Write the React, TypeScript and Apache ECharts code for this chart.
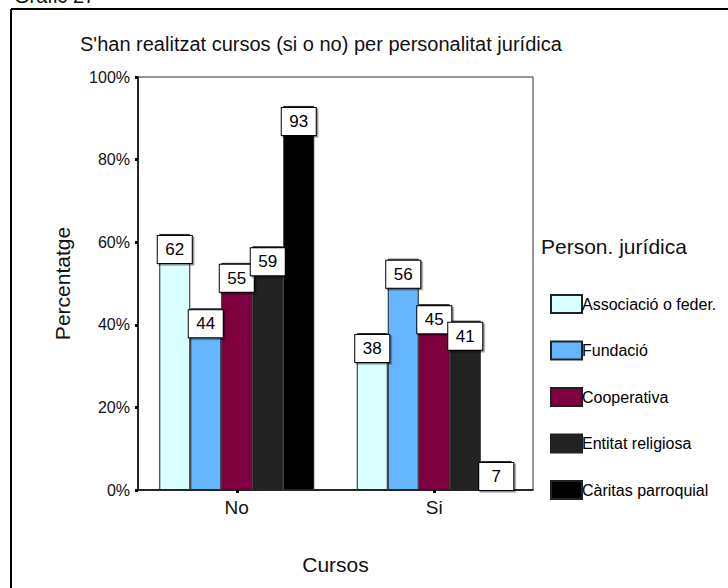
import React, { useEffect, useRef } from "react";
import * as echarts from "echarts";

const categories = ["No", "Si"];
const seriesNames = [
  "Associació o feder.",
  "Fundació",
  "Cooperativa",
  "Entitat religiosa",
  "Càritas parroquial",
];
const seriesValues = [
  [62, 38],
  [44, 56],
  [55, 45],
  [59, 41],
  [93, 7],
];
const seriesColors = ["#d9ffff", "#66b5ff", "#7f003f", "#222222", "#000000"];
const yTicks = [0, 20, 40, 60, 80, 100];

const FONT = "'Liberation Sans', Arial, sans-serif";

export default function App() {
  const ref = useRef<HTMLDivElement>(null);

  useEffect(() => {
    if (!ref.current) return;
    const chart = echarts.init(ref.current, null, { renderer: "svg" });

    const series = seriesNames.map((name, i) => ({
      name,
      type: "bar" as const,
      data: seriesValues[i],
      barWidth: 31,
      barGap: "0%",
      itemStyle: {
        color: seriesColors[i],
        borderColor: "#222",
        borderWidth: 1,
      },
      label: {
        show: true,
        position: "insideTop" as const,
        distance: 2,
        formatter: "{c}",
        fontFamily: FONT,
        fontSize: 17,
        color: "#000",
        backgroundColor: "#fff",
        borderColor: "#000",
        borderWidth: 1,
        width: 34,
        height: 27,
        lineHeight: 27,
        align: "center" as const,
        shadowColor: "rgba(0,0,0,0.45)",
        shadowOffsetX: 1.5,
        shadowOffsetY: 1.5,
        shadowBlur: 0,
      },
    }));

    chart.setOption({
      animation: false,
      backgroundColor: "#fff",
      textStyle: { fontFamily: FONT },
      grid: {
        left: 138,
        right: 195,
        top: 77,
        bottom: 98,
        show: true,
        borderColor: "#333",
        borderWidth: 1,
      },
      legend: {
        orient: "vertical",
        left: 545,
        top: 289,
        itemWidth: 31,
        itemHeight: 18,
        itemGap: 26.5,
        icon: "rect",
        data: seriesNames,
        textStyle: {
          fontFamily: FONT,
          fontSize: 16,
          color: "#000",
          padding: [0, 0, 0, -5],
        },
      },
      xAxis: {
        type: "category",
        data: categories,
        name: "Cursos",
        nameLocation: "middle",
        nameGap: 64,
        nameTextStyle: { fontFamily: FONT, fontSize: 21, color: "#111" },
        axisLine: { lineStyle: { color: "#000", width: 1.5 } },
        axisTick: {
          show: true,
          alignWithLabel: true,
          length: 3,
          lineStyle: { color: "#000", width: 3 },
        },
        axisLabel: {
          fontFamily: FONT,
          fontSize: 19,
          color: "#111",
          margin: 8,
        },
      },
      yAxis: {
        type: "value",
        min: 0,
        max: 100,
        interval: 20,
        name: "Percentatge",
        nameLocation: "middle",
        nameGap: 65,
        nameTextStyle: { fontFamily: FONT, fontSize: 21, color: "#111" },
        axisLine: { show: true, lineStyle: { color: "#000", width: 1.5 } },
        axisTick: {
          show: true,
          length: 3,
          lineStyle: { color: "#000", width: 3 },
        },
        splitLine: { show: false },
        axisLabel: {
          fontFamily: FONT,
          fontSize: 16,
          color: "#111",
          margin: 8,
          formatter: (v: number) => (yTicks.includes(v) ? `${v}%` : ""),
        },
      },
      graphic: [
        {
          type: "line",
          shape: { x1: 11, y1: 9, x2: 740, y2: 9 },
          style: { stroke: "#000", lineWidth: 2 },
        },
        {
          type: "line",
          shape: { x1: 11, y1: 9, x2: 11, y2: 600 },
          style: { stroke: "#000", lineWidth: 2 },
        },
        {
          type: "text",
          left: 14,
          top: -14,
          style: {
            text: "Gràfic 27",
            fontFamily: FONT,
            fontSize: 20,
            fill: "#111",
          },
        },
        {
          type: "text",
          left: 80,
          top: 34,
          style: {
            text: "S'han realitzat cursos (si o no) per personalitat jurídica",
            fontFamily: FONT,
            fontSize: 20,
            fill: "#111",
          },
        },
        {
          type: "text",
          left: 541,
          top: 236,
          style: {
            text: "Person. jurídica",
            fontFamily: FONT,
            fontSize: 21,
            fill: "#111",
          },
        },
      ],
      series,
    });

    return () => chart.dispose();
  }, []);

  return (
    <div
      ref={ref}
      style={{ position: "fixed", left: 0, top: 0, width: 728, height: 588 }}
    />
  );
}
